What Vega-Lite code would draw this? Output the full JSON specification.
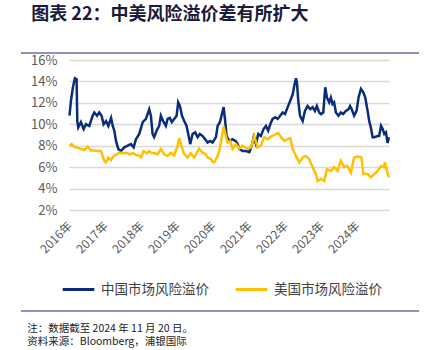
{
  "$schema": "https://vega.github.io/schema/vega-lite/v6.json",
  "background": "white",
  "padding": {"left": 20, "top": 6, "right": 0, "bottom": 0},
  "spacing": 0,
  "title": {
    "text": ["注：数据截至 2024 年 11 月 20 日。", "资料来源：Bloomberg，浦银国际"],
    "orient": "bottom", "anchor": "start", "frame": "bounds",
    "font": "Noto Sans CJK SC", "fontSize": 10.5, "fontWeight": "normal",
    "color": "#222222", "offset": 12, "dx": 7, "lineHeight": 13.5
  },
  "datasets": {
    "cn": [
      {"date": "2016-01-06", "v": 10.8}, {"date": "2016-01-21", "v": 12.2}, {"date": "2016-02-10", "v": 13.45},
      {"date": "2016-03-01", "v": 14.3}, {"date": "2016-03-18", "v": 14.2}, {"date": "2016-03-25", "v": 10.3},
      {"date": "2016-04-04", "v": 9.7}, {"date": "2016-05-01", "v": 10.2}, {"date": "2016-05-29", "v": 9.55},
      {"date": "2016-06-21", "v": 10.0}, {"date": "2016-07-25", "v": 9.85}, {"date": "2016-08-28", "v": 10.8},
      {"date": "2016-09-14", "v": 11.1}, {"date": "2016-10-11", "v": 10.8}, {"date": "2016-11-03", "v": 11.1},
      {"date": "2016-11-27", "v": 10.8}, {"date": "2016-12-17", "v": 10.0}, {"date": "2017-01-11", "v": 10.3},
      {"date": "2017-02-03", "v": 9.85}, {"date": "2017-03-03", "v": 10.6}, {"date": "2017-03-20", "v": 9.85},
      {"date": "2017-04-05", "v": 9.4}, {"date": "2017-04-22", "v": 8.45}, {"date": "2017-05-15", "v": 7.7},
      {"date": "2017-06-11", "v": 7.5}, {"date": "2017-07-15", "v": 7.85}, {"date": "2017-08-18", "v": 8.0},
      {"date": "2017-09-21", "v": 8.15}, {"date": "2017-10-18", "v": 7.85}, {"date": "2017-11-10", "v": 8.6},
      {"date": "2017-12-14", "v": 9.1}, {"date": "2018-01-18", "v": 10.2}, {"date": "2018-02-20", "v": 10.5},
      {"date": "2018-03-25", "v": 11.4}, {"date": "2018-04-11", "v": 10.8}, {"date": "2018-04-28", "v": 9.1},
      {"date": "2018-05-14", "v": 8.8}, {"date": "2018-06-08", "v": 9.4}, {"date": "2018-07-04", "v": 9.85},
      {"date": "2018-07-21", "v": 10.8}, {"date": "2018-08-13", "v": 10.3}, {"date": "2018-09-10", "v": 9.85},
      {"date": "2018-09-27", "v": 10.5}, {"date": "2018-10-20", "v": 10.6}, {"date": "2018-11-09", "v": 10.2},
      {"date": "2018-12-03", "v": 10.5}, {"date": "2018-12-28", "v": 10.8}, {"date": "2019-01-13", "v": 12.05},
      {"date": "2019-01-31", "v": 11.7}, {"date": "2019-02-20", "v": 10.8}, {"date": "2019-03-15", "v": 10.3},
      {"date": "2019-04-08", "v": 9.85}, {"date": "2019-04-29", "v": 8.9}, {"date": "2019-05-15", "v": 8.15},
      {"date": "2019-06-08", "v": 9.1}, {"date": "2019-07-04", "v": 9.25}, {"date": "2019-07-29", "v": 8.8},
      {"date": "2019-08-21", "v": 9.1}, {"date": "2019-09-18", "v": 8.9}, {"date": "2019-10-14", "v": 8.6},
      {"date": "2019-11-07", "v": 8.3}, {"date": "2019-12-03", "v": 8.45}, {"date": "2019-12-28", "v": 8.3},
      {"date": "2020-01-31", "v": 8.8}, {"date": "2020-02-17", "v": 9.85}, {"date": "2020-03-11", "v": 10.2},
      {"date": "2020-04-01", "v": 10.95}, {"date": "2020-04-18", "v": 11.6}, {"date": "2020-05-04", "v": 10.3},
      {"date": "2020-05-18", "v": 8.9}, {"date": "2020-06-14", "v": 8.45}, {"date": "2020-07-18", "v": 8.6},
      {"date": "2020-08-21", "v": 8.4}, {"date": "2020-09-07", "v": 8.15}, {"date": "2020-09-24", "v": 7.7},
      {"date": "2020-10-28", "v": 7.5}, {"date": "2020-12-01", "v": 7.5}, {"date": "2021-01-04", "v": 7.4},
      {"date": "2021-01-28", "v": 8.0}, {"date": "2021-02-17", "v": 8.8}, {"date": "2021-03-12", "v": 8.15},
      {"date": "2021-04-04", "v": 9.1}, {"date": "2021-05-01", "v": 8.9}, {"date": "2021-05-28", "v": 9.55},
      {"date": "2021-06-21", "v": 9.85}, {"date": "2021-07-14", "v": 9.4}, {"date": "2021-08-04", "v": 10.0},
      {"date": "2021-08-28", "v": 10.5}, {"date": "2021-09-24", "v": 10.65}, {"date": "2021-10-18", "v": 10.5},
      {"date": "2021-11-13", "v": 10.8}, {"date": "2021-12-08", "v": 11.1}, {"date": "2022-01-01", "v": 10.95},
      {"date": "2022-01-28", "v": 11.6}, {"date": "2022-02-23", "v": 12.2}, {"date": "2022-03-20", "v": 12.8},
      {"date": "2022-04-05", "v": 13.6}, {"date": "2022-04-22", "v": 14.3}, {"date": "2022-05-02", "v": 13.9},
      {"date": "2022-05-15", "v": 12.2}, {"date": "2022-06-02", "v": 10.8}, {"date": "2022-06-29", "v": 10.3},
      {"date": "2022-07-22", "v": 11.25}, {"date": "2022-08-18", "v": 11.7}, {"date": "2022-09-14", "v": 11.4},
      {"date": "2022-10-08", "v": 11.6}, {"date": "2022-10-31", "v": 11.25}, {"date": "2022-11-20", "v": 11.7},
      {"date": "2022-12-14", "v": 11.1}, {"date": "2023-01-01", "v": 10.95}, {"date": "2023-01-24", "v": 11.1},
      {"date": "2023-02-13", "v": 13.45}, {"date": "2023-03-02", "v": 12.5}, {"date": "2023-03-25", "v": 12.05},
      {"date": "2023-04-11", "v": 12.5}, {"date": "2023-04-28", "v": 11.9}, {"date": "2023-05-14", "v": 12.05},
      {"date": "2023-06-01", "v": 11.1}, {"date": "2023-06-28", "v": 10.8}, {"date": "2023-07-21", "v": 11.1},
      {"date": "2023-08-13", "v": 10.95}, {"date": "2023-09-10", "v": 11.25}, {"date": "2023-10-07", "v": 11.4},
      {"date": "2023-10-23", "v": 11.7}, {"date": "2023-11-09", "v": 11.4}, {"date": "2023-12-03", "v": 10.8},
      {"date": "2023-12-28", "v": 11.25}, {"date": "2024-01-17", "v": 12.5}, {"date": "2024-02-10", "v": 13.3},
      {"date": "2024-03-04", "v": 13.0}, {"date": "2024-03-25", "v": 12.5}, {"date": "2024-04-18", "v": 11.25},
      {"date": "2024-05-04", "v": 10.3}, {"date": "2024-05-21", "v": 9.7}, {"date": "2024-06-08", "v": 8.8},
      {"date": "2024-06-24", "v": 8.8}, {"date": "2024-07-29", "v": 8.9}, {"date": "2024-08-13", "v": 8.9},
      {"date": "2024-09-01", "v": 9.85}, {"date": "2024-09-18", "v": 9.55}, {"date": "2024-10-04", "v": 9.1},
      {"date": "2024-10-21", "v": 9.25}, {"date": "2024-11-07", "v": 8.25}, {"date": "2024-11-20", "v": 8.8}
    ],
    "us": [
      {"date": "2016-01-04", "v": 8.0}, {"date": "2016-01-27", "v": 8.15}, {"date": "2016-02-23", "v": 7.9},
      {"date": "2016-03-28", "v": 7.8}, {"date": "2016-05-01", "v": 7.7}, {"date": "2016-06-05", "v": 7.6},
      {"date": "2016-07-09", "v": 7.9}, {"date": "2016-08-12", "v": 7.55}, {"date": "2016-09-14", "v": 7.55},
      {"date": "2016-10-18", "v": 7.5}, {"date": "2016-11-20", "v": 7.5}, {"date": "2016-12-07", "v": 7.05},
      {"date": "2016-12-24", "v": 6.6}, {"date": "2017-01-11", "v": 6.45}, {"date": "2017-02-03", "v": 6.9},
      {"date": "2017-03-03", "v": 6.65}, {"date": "2017-03-30", "v": 7.05}, {"date": "2017-04-22", "v": 7.15},
      {"date": "2017-05-27", "v": 7.35}, {"date": "2017-07-01", "v": 7.3}, {"date": "2017-08-04", "v": 7.35},
      {"date": "2017-09-07", "v": 7.2}, {"date": "2017-10-11", "v": 7.3}, {"date": "2017-11-10", "v": 7.15},
      {"date": "2017-12-14", "v": 7.05}, {"date": "2018-01-01", "v": 6.9}, {"date": "2018-01-28", "v": 7.5},
      {"date": "2018-03-03", "v": 7.3}, {"date": "2018-03-25", "v": 7.5}, {"date": "2018-04-11", "v": 7.35},
      {"date": "2018-05-14", "v": 7.3}, {"date": "2018-06-18", "v": 7.2}, {"date": "2018-07-21", "v": 7.7},
      {"date": "2018-08-24", "v": 7.2}, {"date": "2018-09-27", "v": 7.05}, {"date": "2018-10-31", "v": 7.35},
      {"date": "2018-12-03", "v": 7.1}, {"date": "2019-01-07", "v": 8.0}, {"date": "2019-01-23", "v": 8.7},
      {"date": "2019-02-10", "v": 8.15}, {"date": "2019-03-07", "v": 7.35}, {"date": "2019-04-17", "v": 6.9},
      {"date": "2019-05-21", "v": 7.3}, {"date": "2019-06-24", "v": 6.9}, {"date": "2019-08-13", "v": 7.7},
      {"date": "2019-09-18", "v": 7.35}, {"date": "2019-10-21", "v": 7.2}, {"date": "2019-11-07", "v": 6.9},
      {"date": "2019-12-11", "v": 6.75}, {"date": "2019-12-28", "v": 6.5}, {"date": "2020-01-14", "v": 6.45},
      {"date": "2020-02-17", "v": 7.05}, {"date": "2020-03-04", "v": 7.5}, {"date": "2020-03-21", "v": 8.3},
      {"date": "2020-04-18", "v": 9.8}, {"date": "2020-05-11", "v": 8.9}, {"date": "2020-05-28", "v": 8.3},
      {"date": "2020-06-23", "v": 8.45}, {"date": "2020-07-18", "v": 7.7}, {"date": "2020-08-21", "v": 8.15},
      {"date": "2020-09-24", "v": 7.75}, {"date": "2020-10-28", "v": 8.0}, {"date": "2020-12-18", "v": 7.7},
      {"date": "2021-01-21", "v": 7.85}, {"date": "2021-02-23", "v": 8.9}, {"date": "2021-03-29", "v": 7.85},
      {"date": "2021-05-01", "v": 8.0}, {"date": "2021-06-04", "v": 8.8}, {"date": "2021-07-09", "v": 8.6},
      {"date": "2021-08-12", "v": 8.85}, {"date": "2021-09-14", "v": 9.0}, {"date": "2021-10-24", "v": 9.2},
      {"date": "2021-11-20", "v": 8.8}, {"date": "2021-12-24", "v": 8.45}, {"date": "2022-01-21", "v": 8.6},
      {"date": "2022-02-23", "v": 8.7}, {"date": "2022-03-20", "v": 7.7}, {"date": "2022-04-22", "v": 7.05},
      {"date": "2022-05-26", "v": 6.45}, {"date": "2022-06-29", "v": 6.9}, {"date": "2022-08-01", "v": 7.05},
      {"date": "2022-09-04", "v": 6.75}, {"date": "2022-10-08", "v": 6.0}, {"date": "2022-11-10", "v": 5.35},
      {"date": "2022-11-28", "v": 4.7}, {"date": "2023-01-01", "v": 4.9}, {"date": "2023-02-03", "v": 4.7},
      {"date": "2023-03-02", "v": 5.8}, {"date": "2023-04-11", "v": 5.65}, {"date": "2023-05-14", "v": 6.0},
      {"date": "2023-06-18", "v": 5.65}, {"date": "2023-07-21", "v": 6.6}, {"date": "2023-08-24", "v": 6.0},
      {"date": "2023-09-27", "v": 6.1}, {"date": "2023-10-31", "v": 5.5}, {"date": "2023-12-03", "v": 6.9},
      {"date": "2024-01-07", "v": 7.0}, {"date": "2024-02-15", "v": 6.9}, {"date": "2024-03-07", "v": 5.35},
      {"date": "2024-04-18", "v": 5.35}, {"date": "2024-05-21", "v": 5.05}, {"date": "2024-06-24", "v": 5.35},
      {"date": "2024-07-29", "v": 5.65}, {"date": "2024-09-01", "v": 6.1}, {"date": "2024-09-28", "v": 6.0},
      {"date": "2024-10-11", "v": 6.45}, {"date": "2024-11-01", "v": 5.65}, {"date": "2024-11-20", "v": 5.05}
    ],
    "sep": [{"line": "separator"}]
  },
  "vconcat": [
    {
      "width": 320,
      "height": 150,
      "title": {
        "text": "图表 22：中美风险溢价差有所扩大",
        "anchor": "start", "frame": "bounds",
        "font": "Noto Sans CJK SC", "fontSize": 18, "fontWeight": "bold",
        "color": "#1a1a3a", "dx": 11, "offset": 28
      },
      "resolve": {
        "scale": {"x": "independent", "y": "independent"},
        "axis": {"x": "independent", "y": "independent"}
      },
      "layer": [
        {
          "layer": [
            {
              "data": {"name": "cn"},
              "mark": {"type": "line", "strokeWidth": 2.5},
              "encoding": {
                "x": {
                  "field": "date", "type": "temporal",
                  "scale": {"type": "utc", "domain": [{"year": 2016, "month": 1, "date": 1, "utc": true}, {"year": 2024, "month": 11, "date": 21, "utc": true}]},
                  "axis": {
                    "title": null, "domain": false, "ticks": false, "grid": false, "tickCount": 50,
                    "values": [
                      {"year": 2016, "month": 1, "date": 1, "utc": true}, {"year": 2017, "month": 1, "date": 1, "utc": true},
                      {"year": 2018, "month": 1, "date": 1, "utc": true}, {"year": 2019, "month": 1, "date": 1, "utc": true},
                      {"year": 2020, "month": 1, "date": 1, "utc": true}, {"year": 2021, "month": 1, "date": 1, "utc": true},
                      {"year": 2022, "month": 1, "date": 1, "utc": true}, {"year": 2023, "month": 1, "date": 1, "utc": true},
                      {"year": 2024, "month": 1, "date": 1, "utc": true}
                    ],
                    "format": "%Y年", "labelAngle": -45, "labelFontSize": 12, "labelColor": "#595959",
                    "labelFont": "Noto Sans CJK SC", "labelPadding": 10, "labelOffset": -3, "labelOverlap": false
                  }
                },
                "y": {
                  "field": "v", "type": "quantitative",
                  "scale": {"domain": [2, 16]},
                  "axis": {
                    "title": null, "domain": false, "ticks": false, "grid": true, "tickCount": 50,
                    "values": [2, 4, 6, 8, 10, 12, 14, 16],
                    "labelExpr": "datum.value + '%'", "labelOverlap": false,
                    "labelFontSize": 13, "labelColor": "#595959", "labelFont": "Noto Sans CJK SC",
                    "labelPadding": 12, "gridColor": "#D9D9D9", "gridWidth": 1.5
                  }
                },
                "color": {
                  "datum": "中国市场风险溢价",
                  "scale": {"domain": ["中国市场风险溢价", "美国市场风险溢价"], "range": ["#0B2C7A", "#FFC000"]},
                  "legend": {
                    "title": null, "orient": "none", "direction": "horizontal",
                    "legendX": -8, "legendY": 212, "padding": 0,
                    "symbolType": "stroke", "symbolSize": 1000, "symbolStrokeWidth": 3,
                    "labelFontSize": 13.5, "labelColor": "#404040", "labelFont": "Noto Sans CJK SC",
                    "labelOffset": 5, "columnPadding": 20
                  }
                }
              }
            },
            {
              "data": {"name": "us"},
              "mark": {"type": "line", "strokeWidth": 2.5},
              "encoding": {
                "x": {"field": "date", "type": "temporal"},
                "y": {"field": "v", "type": "quantitative"},
                "color": {"datum": "美国市场风险溢价"}
              }
            }
          ]
        },
        {
          "data": {"name": "sep"},
          "layer": [
            {
              "mark": {"type": "rule", "color": "#6F6AA8", "strokeWidth": 1.5, "clip": false},
              "encoding": {
                "x": {"datum": 1409529600000, "type": "temporal", "axis": null,
                      "scale": {"type": "utc", "domain": [1409529600000, 1758412800000], "range": [-48, 350]}},
                "x2": {"datum": 1758412800000},
                "y": {"datum": 17.31, "type": "quantitative", "axis": null,
                      "scale": {"domain": [-7.7, 17.31], "range": [254, -14]}}
              }
            },
            {
              "mark": {"type": "rule", "color": "#6F6AA8", "strokeWidth": 1.5, "clip": false},
              "encoding": {
                "x": {"datum": 1409529600000, "type": "temporal", "axis": null},
                "x2": {"datum": 1758412800000},
                "y": {"datum": -7.7, "type": "quantitative", "axis": null}
              }
            }
          ]
        }
      ]
    }
  ],
  "config": {
    "view": {"stroke": null},
    "font": "Noto Sans CJK SC",
    "axis": {"labelOverlap": false}
  }
}
